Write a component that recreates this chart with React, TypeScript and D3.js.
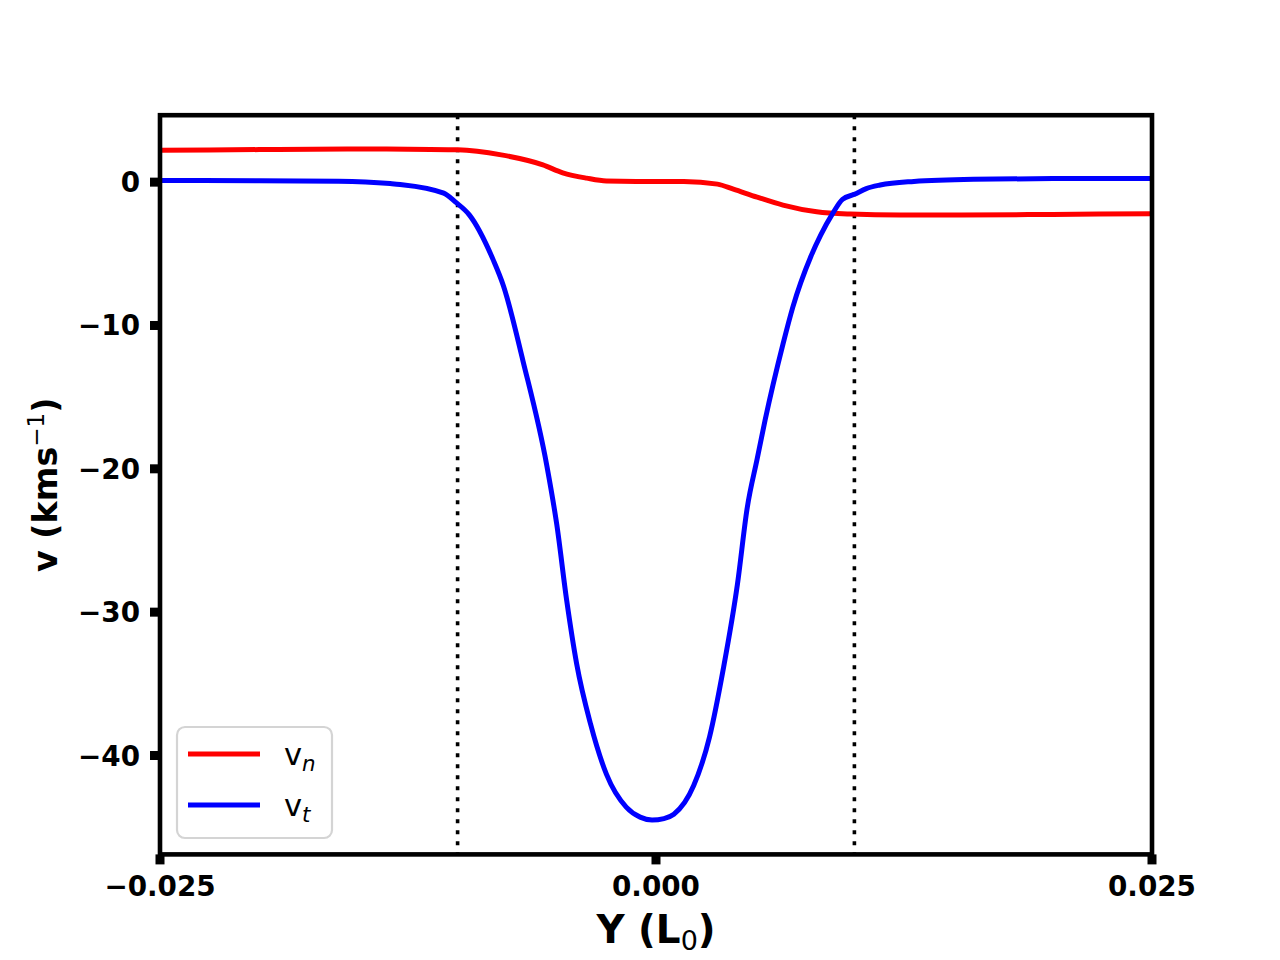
import { useEffect, useRef } from 'react';
import * as d3 from 'd3';

// v_n profile across the layer
const yN = [-0.025, -0.02, -0.015, -0.0125, -0.01, -0.0078, -0.0057, -0.0047, -0.0035, -0.0025, -0.001, 0.0014, 0.0031, 0.0039, 0.0051, 0.0064, 0.0081, 0.0098, 0.0123, 0.015, 0.02, 0.025];
const vN = [2.23, 2.27, 2.31, 2.3, 2.26, 1.9, 1.2, 0.65, 0.28, 0.08, 0.05, 0.05, -0.14, -0.49, -1.05, -1.6, -2.07, -2.23, -2.3, -2.3, -2.25, -2.2];

// v_t profile across the layer
const yT = [-0.025, -0.02, -0.016, -0.0134, -0.0129, -0.0107, -0.0101, -0.0094, -0.0082, -0.0077, -0.0067, -0.0055, -0.005, -0.0045, -0.004, -0.0033, -0.0025, -0.0015, -0.0008, -0.0002, 0.0004, 0.0009, 0.0019, 0.0027, 0.0034, 0.0041, 0.0046, 0.0051, 0.0055, 0.0064, 0.0069, 0.0078, 0.0083, 0.0089, 0.0094, 0.01, 0.0106, 0.0113, 0.013, 0.016, 0.02, 0.025];
const vT = [0.12, 0.1, 0.06, -0.1, -0.16, -0.77, -1.4, -2.3, -5.44, -7.19, -12.5, -19.8, -23.9, -29.2, -33.6, -37.8, -41.3, -43.6, -44.3, -44.5, -44.4, -44.1, -42.1, -38.7, -33.9, -28.1, -22.7, -19.3, -16.6, -11.3, -8.7, -5.2, -3.7, -2.2, -1.2, -0.85, -0.45, -0.2, 0.05, 0.2, 0.25, 0.25];

const boundaries = [-0.01, 0.01];
const xTicks = [-0.025, 0, 0.025];
const xTickLabels = ['\u22120.025', '0.000', '0.025'];
const yTicks = [-40, -30, -20, -10, 0];

const W = 1280;
const H = 960;
const margin = { top: 115.2, right: 128, bottom: 105.6, left: 160 };
const FONT = '"DejaVu Sans", sans-serif';

export default function App() {
  const svgRef = useRef<SVGSVGElement>(null);

  useEffect(() => {
    if (!svgRef.current) return;
    const svg = d3.select(svgRef.current);
    svg.selectAll('*').remove();

    const x = d3.scaleLinear().domain([-0.025, 0.025]).range([margin.left, W - margin.right]);
    const y = d3.scaleLinear().domain([-46.9, 4.67]).range([H - margin.bottom, margin.top]);

    const line = d3.line<[number, number]>()
      .x(d => x(d[0]))
      .y(d => y(d[1]))
      .curve(d3.curveMonotoneX);

    const plot = svg.append('g');

    // dotted boundaries
    plot.selectAll('line.bound')
      .data(boundaries)
      .join('line')
      .attr('x1', d => x(d)).attr('x2', d => x(d))
      .attr('y1', margin.top).attr('y2', H - margin.bottom)
      .attr('stroke', '#000').attr('stroke-width', 3.6)
      .attr('stroke-dasharray', '4 7');

    plot.append('path')
      .attr('d', line(yN.map((v, i) => [v, vN[i]] as [number, number])))
      .attr('fill', 'none').attr('stroke', '#ff0000').attr('stroke-width', 5)
      .attr('stroke-linejoin', 'round');

    plot.append('path')
      .attr('d', line(yT.map((v, i) => [v, vT[i]] as [number, number])))
      .attr('fill', 'none').attr('stroke', '#0000ff').attr('stroke-width', 5)
      .attr('stroke-linejoin', 'round');

    // frame
    svg.append('rect')
      .attr('x', margin.left).attr('y', margin.top)
      .attr('width', W - margin.left - margin.right)
      .attr('height', H - margin.top - margin.bottom)
      .attr('fill', 'none').attr('stroke', '#000').attr('stroke-width', 4.6);

    // y ticks
    const yAxis = svg.append('g');
    yAxis.selectAll('rect')
      .data(yTicks)
      .join('rect')
      .attr('x', margin.left - 10).attr('y', d => y(d) - 4.5)
      .attr('width', 10).attr('height', 9)
      .attr('fill', '#000');
    yAxis.selectAll('text')
      .data(yTicks)
      .join('text')
      .attr('x', margin.left - 20).attr('y', d => y(d))
      .attr('dy', '0.36em')
      .attr('text-anchor', 'end')
      .style('font-family', FONT).style('font-size', '27.8px').style('font-weight', 'bold')
      .text(d => (d < 0 ? '\u2212' + Math.abs(d) : String(d)));

    // x ticks
    const xAxis = svg.append('g');
    xAxis.selectAll('rect')
      .data(xTicks)
      .join('rect')
      .attr('x', d => x(d) - 4.5).attr('y', H - margin.bottom)
      .attr('width', 9).attr('height', 10)
      .attr('fill', '#000');
    xAxis.selectAll('text')
      .data(xTicks)
      .join('text')
      .attr('x', d => x(d)).attr('y', 896)
      .attr('text-anchor', 'middle')
      .style('font-family', FONT).style('font-size', '27.8px').style('font-weight', 'bold')
      .text((d, i) => xTickLabels[i]);

    // x label
    const xl = svg.append('text')
      .attr('x', (margin.left + W - margin.right) / 2).attr('y', 943)
      .attr('text-anchor', 'middle')
      .style('font-family', FONT).style('font-size', '38.9px').style('font-weight', 'bold');
    xl.append('tspan').text('Y (L');
    xl.append('tspan').attr('dy', 7).style('font-size', '27px').style('font-weight', 'normal').text('0');
    xl.append('tspan').attr('dy', -7).text(')');

    // y label
    const yl = svg.append('text')
      .attr('transform', `translate(57,${(margin.top + H - margin.bottom) / 2}) rotate(-90)`)
      .attr('text-anchor', 'middle')
      .style('font-family', FONT).style('font-size', '33.3px').style('font-weight', 'bold');
    yl.append('tspan').text('v (kms');
    yl.append('tspan').attr('dy', -13).style('font-size', '23px').style('font-weight', 'normal').text('\u22121');
    yl.append('tspan').attr('dy', 13).text(')');

    // legend
    const lg = svg.append('g');
    lg.append('rect')
      .attr('x', 177).attr('y', 727).attr('width', 155).attr('height', 111)
      .attr('rx', 8)
      .attr('fill', '#fff').attr('fill-opacity', 0.8)
      .attr('stroke', '#d4d4d4').attr('stroke-width', 2.2);
    const entries = [
      { color: '#ff0000', sub: 'n', yy: 754 },
      { color: '#0000ff', sub: 't', yy: 805 },
    ];
    entries.forEach(e => {
      lg.append('line')
        .attr('x1', 188).attr('x2', 260)
        .attr('y1', e.yy).attr('y2', e.yy)
        .attr('stroke', e.color).attr('stroke-width', 5);
      const t = lg.append('text')
        .attr('x', 284).attr('y', e.yy + 11)
        .style('font-family', FONT).style('font-size', '30.6px');
      t.append('tspan').text('v');
      t.append('tspan').attr('dy', 6).style('font-size', '21.4px').style('font-style', 'italic').text(e.sub);
    });
  }, []);

  return (
    <svg
      ref={svgRef}
      width={W}
      height={H}
      viewBox={`0 0 ${W} ${H}`}
      style={{ position: 'absolute', left: 0, top: 0, background: '#fff' }}
    />
  );
}
